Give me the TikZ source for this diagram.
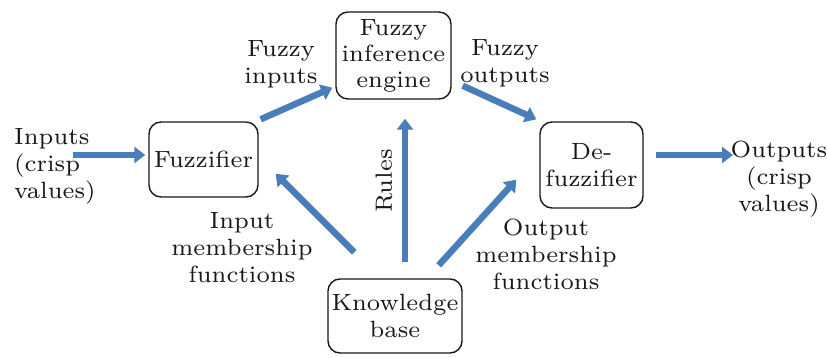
\documentclass[tikz,border=0pt]{standalone}
\usepackage{fontspec}
\setmainfont{lmroman7-regular.otf}
\usetikzlibrary{arrows.meta}
\definecolor{flowblue}{RGB}{74,126,187}
\definecolor{inkgray}{RGB}{25,25,25}
\begin{document}
\begin{tikzpicture}[x=1pt,y=-1pt,
  every node/.style={text=inkgray,font=\fontsize{23.5}{27}\selectfont,align=center,inner sep=0pt},
  stage/.style={draw=inkgray,line width=1.4pt,rounded corners=12pt},
  flow/.style={draw=flowblue,line width=6.5pt,
    -{Triangle[length=11pt,width=16pt]},shorten >=0pt}
]
\useasboundingbox (0,0) rectangle (827,358);

% processing stages
\node[stage,minimum width=109pt,minimum height=75pt] (fuzz) at (203.5,159.5) {Fuzzifier};
\node[stage,minimum width=115pt,minimum height=87pt,font=\fontsize{23.5}{26}\selectfont] (eng) at (393.5,55.5) {Fuzzy\\inference\\engine};
\node[stage,minimum width=103pt,minimum height=86pt] (defz) at (591.5,165) {De-\\fuzzifier};
\node[stage,minimum width=134pt,minimum height=74pt] (kb) at (395,316) {Knowledge\\base};

% labels
\node[align=left,anchor=west] (inlab) at (14,166) {Inputs\\(crisp\\values)};
\node (outlab) at (779,179) {Outputs\\(crisp\\values)};
\node (fin) at (281,64) {Fuzzy\\inputs};
\node (fout) at (505,63) {Fuzzy\\outputs};
\node (inmf) at (242,248) {Input\\membership\\functions};
\node (outmf) at (546,254) {Output\\membership\\functions};
\node[rotate=90] (rules) at (384,181) {Rules};

% free ends of the crisp input/output arrows
\coordinate (inA) at (73,155);
\coordinate (outB) at (733,155);

% arrows
\draw[flow] (inA) -- ([yshift=4.5pt,xshift=-3pt]fuzz.west);
\draw[flow] ([xshift=2pt,yshift=2pt]fuzz.north east) -- ([xshift=-3pt,yshift=12pt]eng.south west);
\draw[flow] ([xshift=11pt,yshift=14pt]eng.south east) -- ([xshift=-3pt,yshift=2pt]defz.north west);
\draw[flow] ([xshift=12pt,yshift=10pt]defz.east) -- (outB);
\draw[flow] ([xshift=27pt,yshift=26pt]kb.north west) -- ([xshift=17pt,yshift=24pt]fuzz.south east);
\draw[flow] ([xshift=10pt,yshift=16pt]kb.north) -- ([xshift=11.5pt,yshift=-19pt]eng.south);
\draw[flow] ([xshift=-24pt,yshift=13pt]kb.north east) -- ([xshift=-23pt,yshift=29pt]defz.south west);
\end{tikzpicture}
\end{document}
